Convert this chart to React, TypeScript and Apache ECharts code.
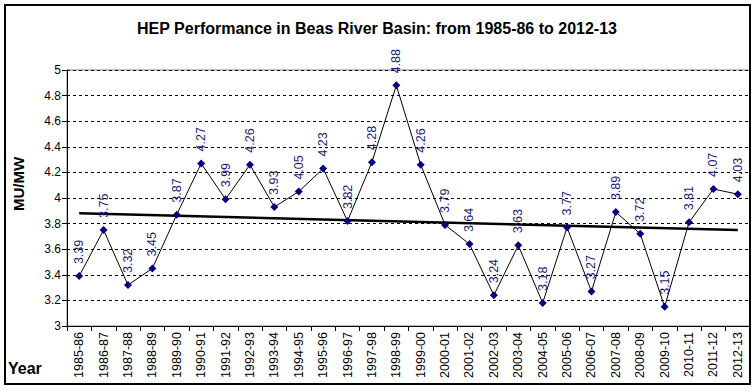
import React, { useEffect, useRef } from "react";
import * as echarts from "echarts";

const categories = [
  "1985-86", "1986-87", "1987-88", "1988-89", "1989-90", "1990-91", "1991-92",
  "1992-93", "1993-94", "1994-95", "1995-96", "1996-97", "1997-98", "1998-99",
  "1999-00", "2000-01", "2001-02", "2002-03", "2003-04", "2004-05", "2005-06",
  "2006-07", "2007-08", "2008-09", "2009-10", "2010-11", "2011-12", "2012-13",
];
const performance = [
  3.39, 3.75, 3.32, 3.45, 3.87, 4.27, 3.99, 4.26, 3.93, 4.05, 4.23, 3.82, 4.28, 4.88,
  4.26, 3.79, 3.64, 3.24, 3.63, 3.18, 3.77, 3.27, 3.89, 3.72, 3.15, 3.81, 4.07, 4.03,
];
// linear trendline end values (first and last category)
const trendEnds = [3.88, 3.75];

const FONT = "'Liberation Sans', Arial, sans-serif";

export default function App() {
  const ref = useRef<HTMLDivElement>(null);
  useEffect(() => {
    document.body.style.margin = "0";
    const chart = echarts.init(ref.current!, undefined, { renderer: "svg" });
    const trendData = [
      [categories[0], trendEnds[0]],
      [categories[categories.length - 1], trendEnds[1]],
    ];
    chart.setOption({
      animation: false,
      backgroundColor: "#ffffff",
      textStyle: { fontFamily: FONT },
      grid: {
        left: 67,
        top: 70,
        right: 6,
        bottom: 64,
        show: true,
        borderColor: "#808080",
        borderWidth: 1,
        backgroundColor: "transparent",
      },
      xAxis: {
        type: "category",
        data: categories,
        boundaryGap: true,
        axisLine: { show: true, lineStyle: { color: "#000", width: 1 } },
        axisTick: { show: true, length: 5, lineStyle: { color: "#000" } },
        axisLabel: {
          interval: 0,
          rotate: 90,
          fontSize: 12.5,
          color: "#000",
          fontFamily: FONT,
          margin: 6,
        },
        splitLine: { show: false },
      },
      yAxis: {
        type: "value",
        min: 3,
        max: 5,
        interval: 0.2,
        axisLine: { show: true, lineStyle: { color: "#000", width: 1 } },
        axisTick: { show: true, length: 5, lineStyle: { color: "#000" } },
        axisLabel: {
          fontSize: 12,
          color: "#000",
          fontFamily: FONT,
          margin: 6,
          formatter: (v: number) => String(Math.round(v * 10) / 10),
        },
        splitLine: {
          show: true,
          lineStyle: { color: "#000", type: [3, 3], width: 1 },
        },
      },
      series: [
        {
          name: "Trend",
          type: "line",
          data: trendData,
          symbol: "none",
          lineStyle: { color: "#000", width: 2.5 },
          z: 2,
          silent: true,
        },
        {
          name: "MU/MW",
          type: "line",
          data: performance,
          symbol: "diamond",
          symbolSize: 8,
          itemStyle: { color: "#000080" },
          lineStyle: { color: "#000", width: 1 },
          z: 3,
          label: {
            show: true,
            position: "top",
            rotate: 90,
            align: "left",
            verticalAlign: "middle",
            distance: 8,
            fontSize: 12.5,
            color: "#1c1c78",
            fontFamily: FONT,
            formatter: (p: any) => String(p.value),
          },
        },
      ],
      graphic: [
        {
          type: "rect",
          shape: { x: 5, y: 5, width: 745, height: 379 },
          style: { fill: "none", stroke: "#000", lineWidth: 2 },
          silent: true,
          z: 100,
        },
        {
          type: "text",
          x: 377,
          y: 28,
          style: {
            text: "HEP Performance in Beas River Basin: from 1985-86 to 2012-13",
            font: `bold 16px ${FONT}`,
            fill: "#000",
            align: "center",
            verticalAlign: "middle",
          },
        },
        {
          type: "text",
          x: 18,
          y: 184,
          rotation: Math.PI / 2,
          style: {
            text: "MU/MW",
            font: `bold 15px ${FONT}`,
            fill: "#000",
            align: "center",
            verticalAlign: "middle",
          },
        },
        {
          type: "text",
          x: 8,
          y: 368,
          style: {
            text: "Year",
            font: `bold 16px ${FONT}`,
            fill: "#000",
            align: "left",
            verticalAlign: "middle",
          },
        },
      ],
    });
    return () => chart.dispose();
  }, []);
  return (
    <div
      ref={ref}
      style={{ position: "absolute", left: 0, top: 0, width: 756, height: 390 }}
    />
  );
}
